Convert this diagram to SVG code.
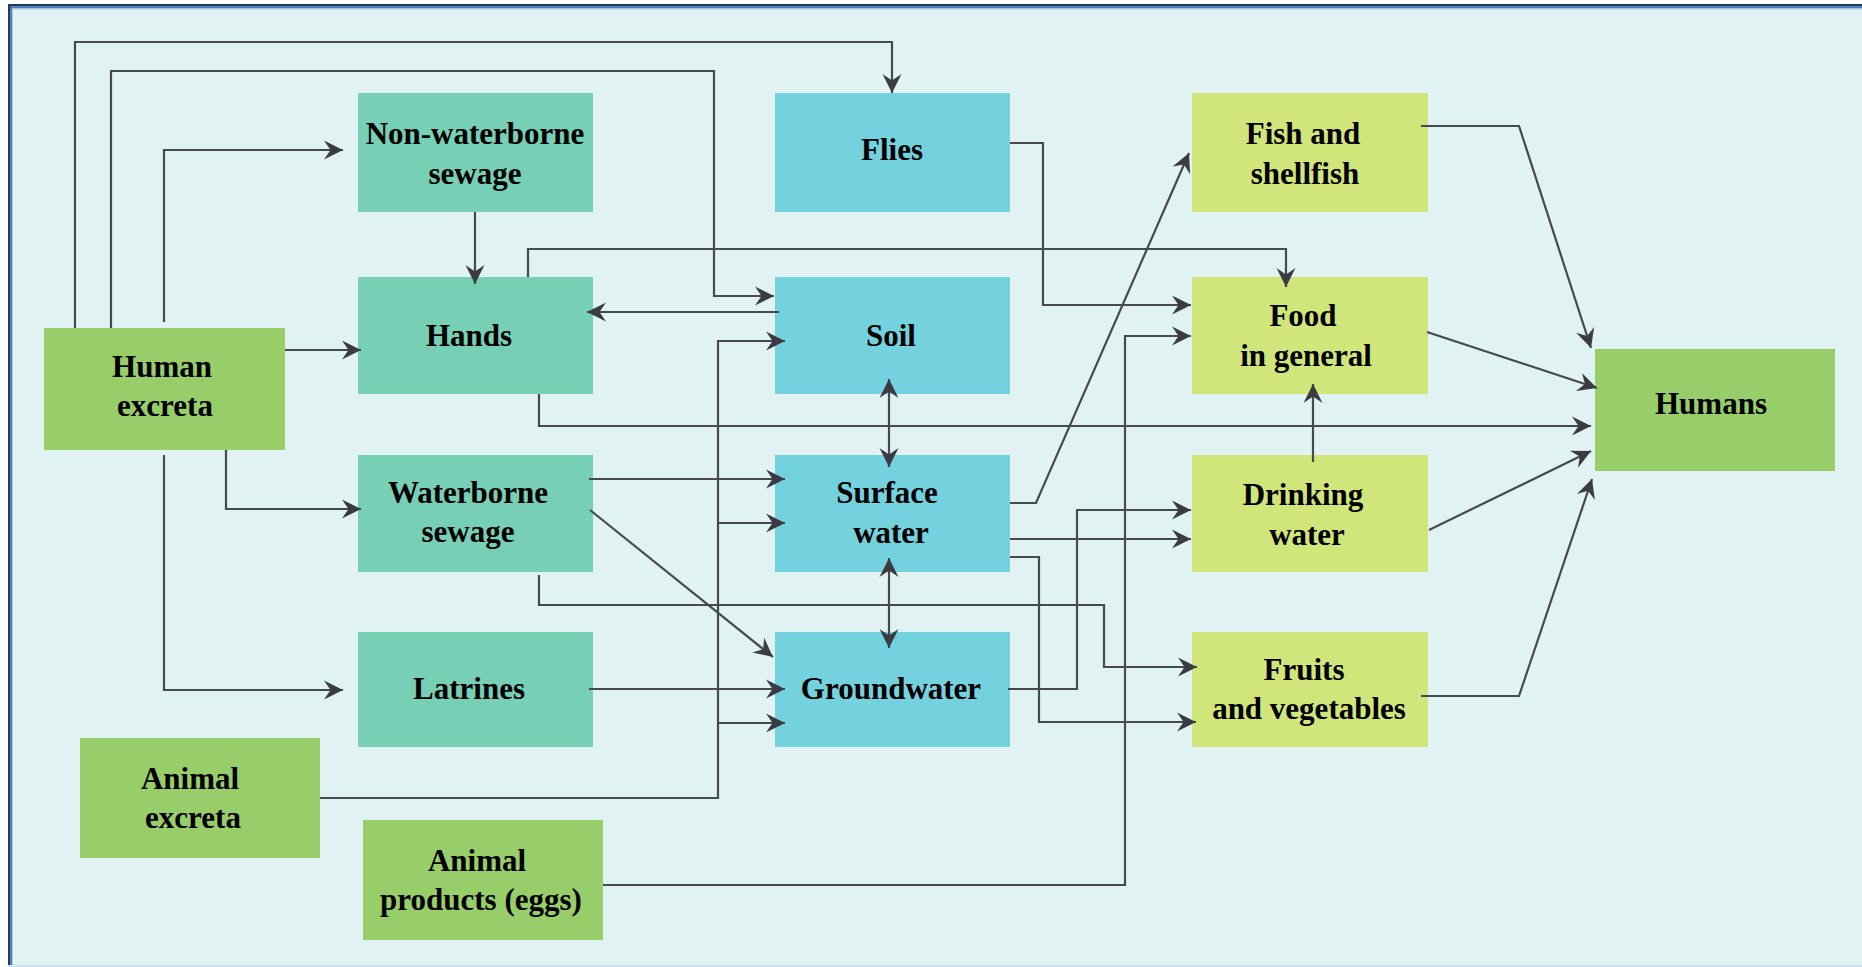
<svg xmlns="http://www.w3.org/2000/svg" width="1862" height="967" viewBox="0 0 1862 967">
<defs>
<style>
.nt{font-family:"Liberation Serif","Times New Roman",serif;font-weight:bold;font-size:31px;fill:#000;text-anchor:middle}
.g{fill:#98CE6A}
.t{fill:#77CFB5}
.b{fill:#74D2DF}
.y{fill:#D1E67A}
.c{fill:none;stroke:#48484f;stroke-width:2.2}
.a{marker-end:url(#ah)}
.aa{marker-end:url(#ah);marker-start:url(#ah)}
</style>
<marker id="ah" viewBox="-21 -11 22 22" refX="0" refY="0" markerWidth="22" markerHeight="22" markerUnits="userSpaceOnUse" orient="auto-start-reverse">
<path d="M0,0 L-19,-9.5 L-12.5,0 L-19,9.5 Z" fill="#3b3b42"/>
</marker>
</defs>
<rect x="0" y="0" width="1862" height="967" fill="#ffffff"/>
<rect x="8" y="4" width="1854" height="963" fill="#E0F2F2"/>
<rect x="8" y="4" width="1854" height="2.5" fill="#1F3A64"/>
<rect x="8" y="6.5" width="1854" height="2" fill="#4B7CB6"/>
<rect x="8" y="8.5" width="1854" height="1" fill="#A9CCE8"/>
<rect x="8" y="4" width="2.5" height="963" fill="#1F3A64"/>
<rect x="10.5" y="6.5" width="1.5" height="960.5" fill="#4B7CB6"/>
<rect x="12" y="8.5" width="1" height="958.5" fill="#A9CCE8"/>
<rect x="8" y="965" width="1854" height="2" fill="#C9E4EE"/>

<g id="human-excreta"><rect class="g" x="44" y="328" width="241" height="122"/><text class="nt" x="162" y="377">Human</text><text class="nt" x="165" y="416">excreta</text></g>
<g id="non-waterborne-sewage"><rect class="t" x="358" y="93" width="235" height="119"/><text class="nt" x="475" y="144">Non-waterborne</text><text class="nt" x="475" y="184">sewage</text></g>
<g id="hands"><rect class="t" x="358" y="277" width="235" height="117"/><text class="nt" x="469" y="346">Hands</text></g>
<g id="waterborne-sewage"><rect class="t" x="358" y="455" width="235" height="117"/><text class="nt" x="468" y="503">Waterborne</text><text class="nt" x="468" y="542">sewage</text></g>
<g id="latrines"><rect class="t" x="358" y="632" width="235" height="115"/><text class="nt" x="469" y="699">Latrines</text></g>
<g id="animal-excreta"><rect class="g" x="80" y="738" width="240" height="120"/><text class="nt" x="190" y="789">Animal</text><text class="nt" x="193" y="828">excreta</text></g>
<g id="animal-products"><rect class="g" x="363" y="820" width="240" height="120"/><text class="nt" x="477" y="871">Animal</text><text class="nt" x="481" y="910">products (eggs)</text></g>
<g id="flies"><rect class="b" x="775" y="93" width="235" height="119"/><text class="nt" x="892" y="160">Flies</text></g>
<g id="soil"><rect class="b" x="775" y="277" width="235" height="117"/><text class="nt" x="891" y="346">Soil</text></g>
<g id="surface-water"><rect class="b" x="775" y="455" width="235" height="117"/><text class="nt" x="887" y="503">Surface</text><text class="nt" x="891" y="543">water</text></g>
<g id="groundwater"><rect class="b" x="775" y="632" width="235" height="115"/><text class="nt" x="891" y="699">Groundwater</text></g>
<g id="fish-shellfish"><rect class="y" x="1192" y="93" width="236" height="119"/><text class="nt" x="1303" y="144">Fish and</text><text class="nt" x="1305" y="184">shellfish</text></g>
<g id="food-general"><rect class="y" x="1192" y="277" width="236" height="117"/><text class="nt" x="1303" y="326">Food</text><text class="nt" x="1306" y="366">in general</text></g>
<g id="drinking-water"><rect class="y" x="1192" y="455" width="236" height="117"/><text class="nt" x="1303" y="505">Drinking</text><text class="nt" x="1307" y="545">water</text></g>
<g id="fruits-vegetables"><rect class="y" x="1192" y="632" width="236" height="115"/><text class="nt" x="1304" y="680">Fruits</text><text class="nt" x="1309" y="719">and vegetables</text></g>
<g id="humans"><rect class="g" x="1595" y="349" width="240" height="122"/><text class="nt" x="1711" y="414">Humans</text></g>

<g id="connectors">
<path class="c a" d="M75,328 V42 H892 V93"/>
<path class="c a" d="M111,328 V71 H714 V296 H774"/>
<path class="c a" d="M164,322 V150 H343"/>
<path class="c a" d="M285,350 H361"/>
<path class="c a" d="M475,212 V284"/>
<path class="c a" d="M779,312 H587"/>
<path class="c a" d="M528,277 V249 H1286 V287"/>
<path class="c a" d="M539,394 V426 H1591"/>
<path class="c a" d="M226,450 V509 H361"/>
<path class="c a" d="M164,455 V690 H343"/>
<path class="c a" d="M589,479 H785"/>
<path class="c a" d="M590,510 L773,657"/>
<path class="c a" d="M539,575 V605 H1104 V667 H1197"/>
<path class="c a" d="M589,689 H785"/>
<path class="c a" d="M320,798 H718 V341 H785"/>
<path class="c a" d="M718,523 H785"/>
<path class="c a" d="M718,723 H785"/>
<path class="c aa" d="M889,379 V467"/>
<path class="c aa" d="M889,558 V648"/>
<path class="c a" d="M1010,503 H1036 L1189,153"/>
<path class="c a" d="M1010,539 H1191"/>
<path class="c a" d="M1010,557 H1039 V722 H1196"/>
<path class="c a" d="M1008,689 H1077 V510 H1191"/>
<path class="c a" d="M1010,143 H1043 V305 H1191"/>
<path class="c a" d="M603,885 H1125 V336 H1191"/>
<path class="c a" d="M1313,462 V384"/>
<path class="c a" d="M1421,126 H1519 L1591,348"/>
<path class="c a" d="M1427,332 L1597,388"/>
<path class="c a" d="M1429,530 L1591,451"/>
<path class="c a" d="M1421,696 H1519 L1592,479"/>
</g>
</svg>
